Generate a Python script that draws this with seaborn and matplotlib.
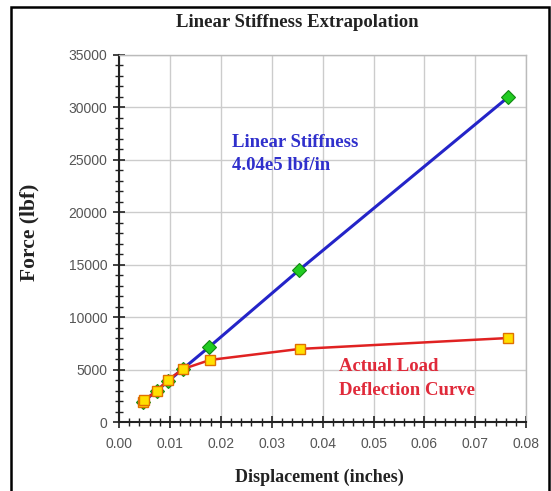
import matplotlib
matplotlib.use("Agg")
import matplotlib.pyplot as plt
import seaborn as sns
import pandas as pd
from matplotlib.ticker import MultipleLocator
from matplotlib.patches import Rectangle

# Data
stiff_x = [0.0047, 0.0074, 0.0096, 0.0126, 0.0177, 0.0354, 0.0765]
stiff_y = [1900, 2990, 3880, 5090, 7150, 14500, 31000]
actual_x = [0.0047, 0.0050, 0.0074, 0.0096, 0.0126, 0.0179, 0.0355, 0.0765]
actual_y = [1900, 2100, 2960, 4010, 5060, 5920, 6970, 8010]
x_ticks = [0.00, 0.01, 0.02, 0.03, 0.04, 0.05, 0.06, 0.07, 0.08]
y_ticks = [0, 5000, 10000, 15000, 20000, 25000, 30000, 35000]

sns.set_style("white")
plt.rcParams['font.family'] = ['DejaVu Sans']

fig = plt.figure(figsize=(5.51, 4.91), dpi=100)
ax = fig.add_axes([0.216, 0.1405, 0.739, 0.7475])

df_s = pd.DataFrame({"x": stiff_x, "y": stiff_y})
df_a = pd.DataFrame({"x": actual_x, "y": actual_y})

sns.lineplot(data=df_s, x="x", y="y", ax=ax, color="#2424c8", linewidth=2.2,
             marker="D", markersize=7, markerfacecolor="#22cc22",
             markeredgecolor="#118811", markeredgewidth=0.8, zorder=3)
sns.lineplot(data=df_a, x="x", y="y", ax=ax, color="#e02222", linewidth=1.8,
             marker="s", markersize=7.5, markerfacecolor="#ffe000",
             markeredgecolor="#e07000", markeredgewidth=1.0, zorder=4)

ax.set_xlim(0, 0.08)
ax.set_ylim(0, 35000)
ax.set_xticks(x_ticks)
ax.set_xticklabels([f"{v:.2f}" for v in x_ticks])
ax.set_yticks(y_ticks)
ax.set_yticklabels([str(v) for v in y_ticks])
ax.xaxis.set_minor_locator(MultipleLocator(0.002))
ax.yaxis.set_minor_locator(MultipleLocator(1000))

ax.grid(True, which="major", color="#cccccc", linewidth=1.0)
ax.set_axisbelow(True)
ax.tick_params(axis="both", which="major", direction="inout", length=9, width=1.2,
               color="#222222", labelsize=10, labelcolor="#555555", pad=4)
ax.tick_params(axis="x", which="major", pad=6)
ax.tick_params(axis="both", which="minor", direction="inout", length=6, width=1.0,
               color="#222222")
ax.tick_params(bottom=True, left=True, which="both")
for lab in ax.get_xticklabels() + ax.get_yticklabels():
    lab.set_family("Liberation Sans")

for s in ["left", "bottom"]:
    ax.spines[s].set_color("#222222")
    ax.spines[s].set_linewidth(1.5)
for s in ["right", "top"]:
    ax.spines[s].set_color("#bbbbbb")
    ax.spines[s].set_linewidth(1.0)

ax.set_xlabel("")
ax.set_ylabel("")
serif = "Liberation Serif"
fig.text(0.579, 0.027, "Displacement (inches)", family=serif, fontweight="bold",
         fontsize=13, color="#222222", ha="center", va="center")
fig.text(0.054, 0.527, "Force (lbf)", family=serif, fontweight="bold",
         fontsize=15.5, color="#222222", ha="center", va="center", rotation=90)
fig.text(0.539, 0.955, "Linear Stiffness Extrapolation", family=serif,
         fontweight="bold", fontsize=13.5, color="#222222", ha="center", va="center")

ax.text(0.0222, 26700, "Linear Stiffness", family=serif, fontweight="bold",
        fontsize=13.5, color="#3030cc", ha="left", va="center")
ax.text(0.0222, 24500, "4.04e5 lbf/in", family=serif, fontweight="bold",
        fontsize=13.5, color="#3030cc", ha="left", va="center")
ax.text(0.0432, 5340, "Actual Load", family=serif, fontweight="bold",
        fontsize=13.5, color="#e02a3a", ha="left", va="center")
ax.text(0.0432, 2960, "Deflection Curve", family=serif, fontweight="bold",
        fontsize=13.5, color="#e02a3a", ha="left", va="center")

fig.patches.append(Rectangle((0.020, -0.01), 0.977, 0.996, transform=fig.transFigure,
                             fill=False, edgecolor="black", linewidth=1.8))

fig.savefig("out.png", dpi=100)
